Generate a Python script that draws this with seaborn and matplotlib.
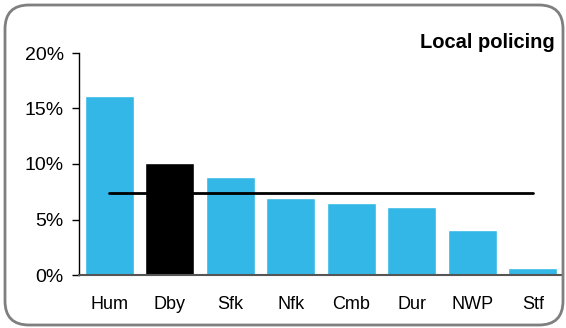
import matplotlib
matplotlib.use("Agg")
import matplotlib.pyplot as plt
import seaborn as sns
import pandas as pd
from matplotlib.patches import FancyBboxPatch
from matplotlib.ticker import FuncFormatter

categories = ["Hum", "Dby", "Sfk", "Nfk", "Cmb", "Dur", "NWP", "Stf"]
values = [16.1, 10.1, 8.8, 6.95, 6.5, 6.15, 4.05, 0.65]
average = 7.4
highlight = "Dby"
title = "Local policing"
yticks = [0, 5, 10, 15, 20]

BLUE = "#33B7E7"
sns.set_theme(style="white")
plt.rcParams["font.family"] = ["Liberation Sans", "DejaVu Sans"]

df = pd.DataFrame({"force": categories, "value": values})
palette = {c: ("#000000" if c == highlight else BLUE) for c in categories}

fig = plt.figure(figsize=(5.66, 3.28), dpi=100)
ax = fig.add_axes([79 / 566, 53 / 328, (563 - 79) / 566, 222 / 328])

sns.barplot(data=df, x="force", y="value", hue="force", palette=palette,
            order=categories, width=0.81, saturation=1, legend=False, ax=ax)
ax.plot(categories, [average] * len(categories), color="black", lw=2, zorder=5)

ax.set_xlim(-0.5, len(categories) - 0.5)
ax.set_ylim(0, 20)
ax.set_yticks(yticks)
ax.yaxis.set_major_formatter(FuncFormatter(lambda v, p: f"{v:.0f}%"))
ax.set_xlabel("")
ax.set_ylabel("")

for s in ["top", "right"]:
    ax.spines[s].set_visible(False)
ax.spines["left"].set_color("black")
ax.spines["left"].set_linewidth(1)
ax.spines["bottom"].set_color("#555555")
ax.spines["bottom"].set_linewidth(1.5)

ax.tick_params(axis="y", left=True, length=5, width=1, color="black",
               pad=6, labelsize=14, labelcolor="black")
ax.tick_params(axis="x", bottom=False, length=0, pad=15, labelsize=13,
               labelcolor="black")

fig.text(555 / 566, 1 - 43 / 328, title, ha="right", va="center",
         fontsize=14.5, fontweight="bold", color="black")

box = FancyBboxPatch((5, 3), 558, 320, boxstyle="round,pad=0,rounding_size=24",
                     transform=None, facecolor="none", edgecolor="#7f7f7f",
                     linewidth=2, zorder=10)
fig.patches.append(box)

fig.savefig("out.png", dpi=100)
